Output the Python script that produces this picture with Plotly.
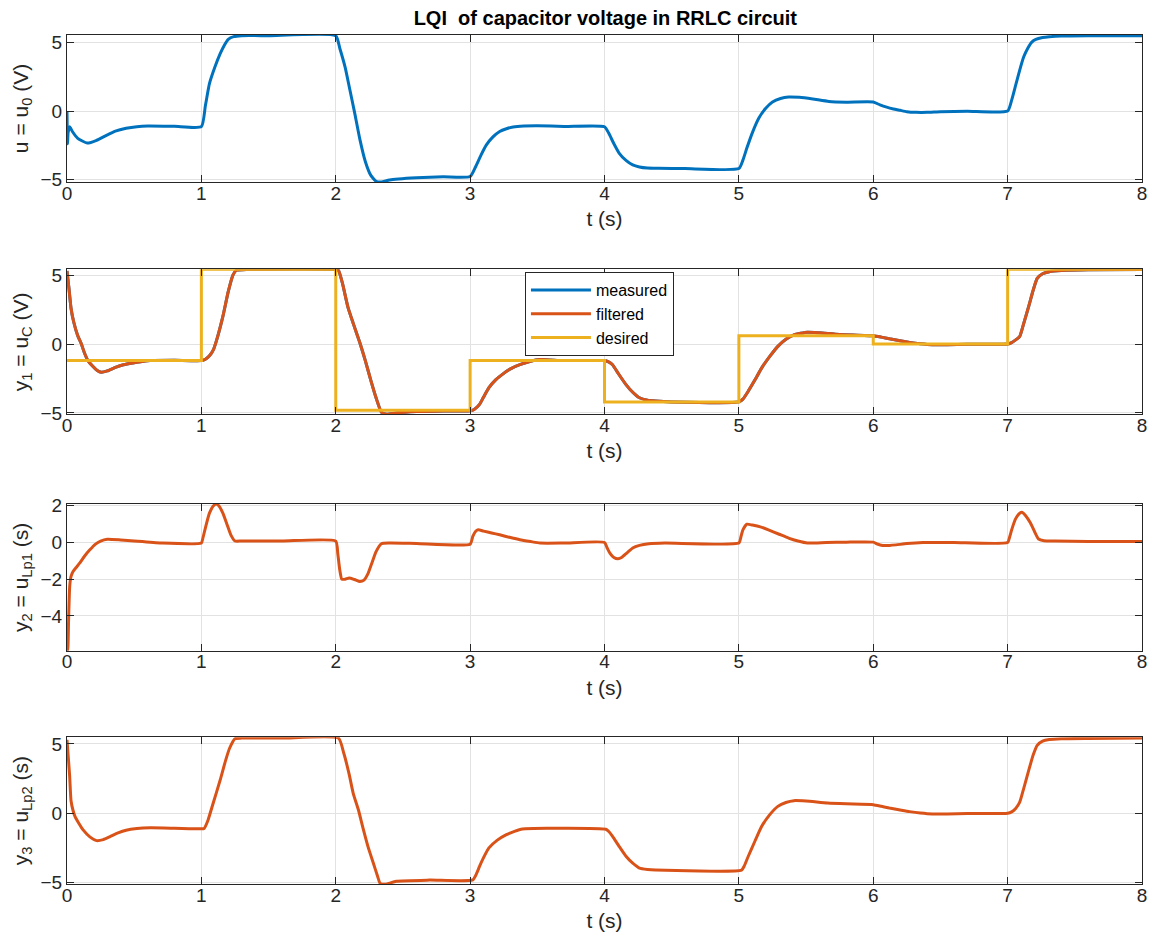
import plotly.graph_objects as go
from plotly.subplots import make_subplots

BLUE = "#0072BD"
ORANGE = "#D95319"
YELLOW = "#EDB120"
AXIS = "#262626"

# control input u = u0
t_u = [0, 0.004, 0.008, 0.02, 0.04, 0.08, 0.15, 0.22, 0.29, 0.36, 0.44, 0.52, 0.6, 0.8,
       1.0, 1.03, 1.06, 1.1, 1.14, 1.17, 1.2, 1.24, 1.3, 1.5,
       2.0, 2.03, 2.07, 2.1, 2.14, 2.18, 2.22, 2.26, 2.3, 2.34, 2.4, 2.6, 2.8,
       3.0, 3.04, 3.08, 3.12, 3.17, 3.22, 3.27, 3.32, 3.4, 3.5, 3.7,
       4.0, 4.03, 4.07, 4.11, 4.16, 4.21, 4.26, 4.32, 4.4, 4.6,
       5.0, 5.03, 5.06, 5.1, 5.15, 5.2, 5.25, 5.31, 5.37, 5.45, 5.55, 5.67, 5.8,
       6.0, 6.05, 6.1, 6.15, 6.2, 6.25, 6.32, 6.4, 6.5, 6.7,
       7.0, 7.03, 7.06, 7.09, 7.12, 7.15, 7.18, 7.21, 7.26, 7.31, 7.4, 7.6, 8.0]
u = [0, -2.4, -1.6, -1.15, -1.5, -2.0, -2.35, -2.15, -1.8, -1.48, -1.27, -1.15, -1.1, -1.12,
     -1.15, 0.4, 2.0, 3.2, 4.2, 4.8, 5.25, 5.45, 5.52, 5.52,
     5.52, 4.6, 3.2, 1.8, -0.1, -2.1, -3.7, -4.7, -5.15, -5.2, -5.05, -4.9, -4.82,
     -4.8, -4.1, -3.25, -2.5, -1.9, -1.5, -1.3, -1.17, -1.1, -1.08, -1.13,
     -1.15, -1.6, -2.4, -3.1, -3.62, -3.95, -4.1, -4.18, -4.2, -4.22,
     -4.22, -3.6, -2.7, -1.6, -0.5, 0.2, 0.66, 0.92, 1.03, 1.0, 0.88, 0.7, 0.65,
     0.66, 0.45, 0.28, 0.15, 0.05, -0.05, -0.1, -0.1, -0.05, -0.02,
     0.0, 0.8, 1.9, 3.0, 3.97, 4.6, 5.05, 5.25, 5.38, 5.44, 5.5, 5.52, 5.52]

# capacitor voltage y1 = uC (measured and filtered overlap)
t_y1 = [0, 0.015, 0.03, 0.05, 0.08, 0.107, 0.13, 0.156, 0.19, 0.225, 0.255, 0.3, 0.36, 0.42,
        0.49, 0.56, 0.62, 0.8,
        1.0, 1.03, 1.06, 1.09, 1.12, 1.16, 1.2, 1.235, 1.26, 1.35,
        2.0, 2.02, 2.05, 2.09, 2.13, 2.18, 2.22, 2.26, 2.3, 2.34, 2.38, 2.45, 2.6, 2.8,
        3.0, 3.03, 3.07, 3.1, 3.14, 3.19, 3.24, 3.3, 3.37, 3.45, 3.52, 3.69,
        4.0, 4.03, 4.06, 4.1, 4.16, 4.21, 4.26, 4.32, 4.38, 4.5,
        5.0, 5.03, 5.07, 5.12, 5.17, 5.23, 5.29, 5.35, 5.41, 5.51, 5.6, 5.75,
        6.0, 6.06, 6.12, 6.2, 6.27, 6.35, 6.44, 6.55, 6.7,
        7.0, 7.03, 7.06, 7.09, 7.12, 7.16, 7.19, 7.22, 7.26, 7.31, 7.4, 7.6, 8.0]
y1 = [5.3, 4.0, 2.6, 1.6, 0.6, 0.0, -0.65, -1.2, -1.6, -1.92, -2.05, -1.95, -1.7, -1.5,
      -1.37, -1.27, -1.2, -1.18,
      -1.2, -1.1, -0.85, -0.4, 0.5, 2.0, 3.8, 5.0, 5.35, 5.42,
      5.42, 5.35, 4.4, 2.7, 1.5, 0.07, -1.2, -2.6, -3.9, -4.95, -5.1, -5.0, -4.9, -4.85,
      -4.85, -4.75, -4.38, -3.85, -3.17, -2.6, -2.2, -1.8, -1.5, -1.25, -1.13, -1.2,
      -1.2, -1.3, -1.5, -2.1, -2.94, -3.5, -3.9, -4.08, -4.14, -4.2,
      -4.2, -4.0, -3.42, -2.6, -1.73, -0.9, -0.17, 0.35, 0.67, 0.86, 0.82, 0.7,
      0.6, 0.5, 0.38, 0.24, 0.12, 0.02, -0.05, -0.05, -0.02,
      0.0, 0.1, 0.3, 0.55, 1.5, 2.84, 3.9, 4.76, 5.1, 5.25, 5.33, 5.38, 5.4]

# desired set-point (step changes every second)
t_ref = [0, 1, 2, 3, 4, 5, 6, 7, 8]
y_ref = [-1.2, 5.42, -4.8, -1.2, -4.2, 0.6, 0.0, 5.42, 5.42]

# y2 = uLp1
t_y2 = [0, 0.006, 0.012, 0.02, 0.03, 0.045, 0.07, 0.094, 0.13, 0.17, 0.21, 0.25, 0.3, 0.4, 0.5, 0.7,
        1.0, 1.01, 1.03, 1.06, 1.09, 1.11, 1.13, 1.16, 1.19, 1.22, 1.25, 1.3, 1.6,
        2.0, 2.015, 2.03, 2.045, 2.07, 2.1, 2.14, 2.18, 2.21, 2.24, 2.27, 2.3, 2.34, 2.4, 2.6,
        3.0, 3.02, 3.04, 3.06, 3.1, 3.16, 3.22, 3.3, 3.37, 3.45, 3.52, 3.7,
        4.0, 4.02, 4.04, 4.07, 4.1, 4.13, 4.17, 4.21, 4.26, 4.33, 4.45,
        5.0, 5.015, 5.03, 5.06, 5.1, 5.16, 5.22, 5.3, 5.37, 5.44, 5.51, 5.65, 5.8,
        6.0, 6.03, 6.07, 6.12, 6.17, 6.25, 6.37, 6.6,
        7.0, 7.015, 7.03, 7.06, 7.09, 7.11, 7.13, 7.17, 7.2, 7.23, 7.27, 7.35, 7.6, 8.0]
y2 = [-5.5, -5.9, -4.2, -2.4, -1.85, -1.58, -1.35, -1.13, -0.75, -0.4, -0.1, 0.08, 0.18, 0.14, 0.08, -0.03,
      -0.03, 0.2, 0.8, 1.6, 2.0, 2.1, 2.0, 1.6, 1.0, 0.4, 0.08, 0.08, 0.08,
      0.08, -0.6, -1.5, -2.0, -2.0, -1.93, -2.02, -2.13, -2.05, -1.7, -1.1, -0.5, -0.07, -0.03, -0.05,
      -0.09, 0.33, 0.6, 0.69, 0.62, 0.52, 0.42, 0.27, 0.15, 0.05, -0.03, -0.03,
      0.0, -0.3, -0.58, -0.82, -0.89, -0.8, -0.55, -0.3, -0.16, -0.07, -0.03,
      -0.03, 0.3, 0.69, 1.0, 0.95, 0.85, 0.69, 0.45, 0.24, 0.08, -0.03, 0.0, 0.02,
      0.02, -0.08, -0.16, -0.16, -0.13, -0.06, 0.0, 0.0,
      0.0, 0.3, 0.69, 1.3, 1.6, 1.64, 1.5, 1.06, 0.6, 0.19, 0.1, 0.08, 0.06, 0.05]

# y3 = uLp2
t_y3 = [0, 0.01, 0.02, 0.03, 0.045, 0.06, 0.09, 0.12, 0.17, 0.22, 0.27, 0.32, 0.38, 0.44, 0.52, 0.62, 0.8,
        1.0, 1.02, 1.05, 1.09, 1.14, 1.18, 1.21, 1.25, 1.3, 1.6,
        2.02, 2.06, 2.1, 2.13, 2.17, 2.2, 2.24, 2.28, 2.31, 2.33, 2.37, 2.45, 2.7,
        3.02, 3.05, 3.07, 3.1, 3.14, 3.2, 3.27, 3.33, 3.39, 3.57,
        4.01, 4.03, 4.06, 4.11, 4.16, 4.21, 4.26, 4.32, 4.38,
        5.02, 5.04, 5.07, 5.12, 5.17, 5.23, 5.29, 5.35, 5.41, 5.5, 5.66, 5.8,
        6.0, 6.06, 6.12, 6.2, 6.27, 6.35, 6.44, 6.55, 6.7,
        7.0, 7.03, 7.06, 7.09, 7.12, 7.16, 7.19, 7.22, 7.26, 7.31, 7.4, 7.6, 8.0]
y3 = [5.3, 4.0, 2.64, 0.9, 0.2, -0.24, -0.75, -1.2, -1.7, -1.97, -1.9, -1.69, -1.42, -1.22, -1.1, -1.05, -1.08,
      -1.12, -1.1, -0.48, 0.8, 2.4, 3.8, 4.69, 5.38, 5.42, 5.42,
      5.42, 4.33, 2.8, 1.44, 0.2, -0.96, -2.4, -3.6, -4.5, -5.05, -5.12, -4.9, -4.82,
      -4.8, -4.3, -3.83, -3.2, -2.5, -1.95, -1.54, -1.3, -1.13, -1.08,
      -1.15, -1.3, -1.66, -2.4, -3.1, -3.6, -3.95, -4.05, -4.09,
      -4.1, -3.8, -3.1, -2.0, -0.94, -0.1, 0.5, 0.78, 0.91, 0.88, 0.74, 0.68,
      0.62, 0.5, 0.38, 0.24, 0.12, 0.02, -0.05, -0.05, -0.02,
      0.0, 0.1, 0.35, 0.8, 1.8, 3.2, 4.2, 4.9, 5.2, 5.32, 5.38, 5.4, 5.42]

x_ticks = list(range(9))
y_ranges = [[-5.2, 5.57], [-5.1, 5.42], [-5.9, 2.1], [-5.1, 5.48]]
y_ticks = [[-5, 0, 5], [-5, 0, 5], [-4, -2, 0, 2], [-5, 0, 5]]
y_titles = ["u = u<sub>0</sub> (V)", "y<sub>1</sub> = u<sub>C</sub> (V)",
            "y<sub>2</sub> = u<sub>Lp1</sub> (s)", "y<sub>3</sub> = u<sub>Lp2</sub> (s)"]
domains = [[0.8269, 1.0], [0.5532, 0.7240], [0.2748, 0.4476], [0.0, 0.1728]]

fig = make_subplots(rows=4, cols=1)


def line(x, y, color, name=None, legend=False, shape="spline"):
    style = {"color": color, "width": 3, "shape": shape}
    if shape == "spline":
        style["smoothing"] = 0.5
    return go.Scatter(x=x, y=y, mode="lines", name=name, showlegend=legend, line=style)


fig.add_trace(line(t_u, u, BLUE), row=1, col=1)
fig.add_trace(line(t_y1, y1, BLUE, "measured", True), row=2, col=1)
fig.add_trace(line(t_y1, y1, ORANGE, "filtered", True), row=2, col=1)
fig.add_trace(line(t_ref, y_ref, YELLOW, "desired", True, "hv"), row=2, col=1)
fig.add_trace(line(t_y2, y2, ORANGE), row=3, col=1)
fig.add_trace(line(t_y3, y3, ORANGE), row=4, col=1)

for i in range(4):
    fig.update_xaxes(
        row=i + 1, col=1, range=[0, 8], tickvals=x_ticks, ticks="inside", ticklen=7,
        tickcolor=AXIS, showline=True, linecolor=AXIS, linewidth=1, mirror="ticks",
        showgrid=True, gridcolor="#e2e2e2", zeroline=False, automargin=False,
        ticklabelstandoff=-6, ticklabeloverflow="allow",
        tickfont={"size": 19, "color": AXIS},
        title={"text": "t (s)", "font": {"size": 21, "color": AXIS}, "standoff": 8},
    )
    fig.update_yaxes(
        row=i + 1, col=1, range=y_ranges[i], tickvals=y_ticks[i], domain=domains[i],
        ticks="inside", ticklen=7, tickcolor=AXIS, showline=True, linecolor=AXIS,
        linewidth=1, mirror="ticks", showgrid=True, gridcolor="#e2e2e2", zeroline=False,
        automargin=False, ticklabelstandoff=0, ticklabeloverflow="allow",
        tickfont={"size": 19, "color": AXIS},
        title={"text": y_titles[i], "font": {"size": 21, "color": AXIS}, "standoff": 6},
    )

fig.update_layout(
    width=1153,
    height=942,
    margin={"l": 67, "r": 11, "t": 35, "b": 58},
    paper_bgcolor="white",
    plot_bgcolor="white",
    font={"family": "Liberation Sans, Arial, sans-serif", "color": AXIS},
    title={"text": "<b>LQI  of capacitor voltage in RRLC circuit</b>", "x": 0.525,
           "xanchor": "center", "y": 0.9809, "yanchor": "middle",
           "font": {"size": 20, "color": "black"}},
    legend={"x": 0.426, "y": 0.7208, "xanchor": "left", "yanchor": "top",
            "bgcolor": "white", "bordercolor": AXIS, "borderwidth": 1,
            "font": {"size": 16, "color": "black"}, "itemwidth": 60,
            "tracegroupgap": 0},
)

# drop the default body margin so the figure fills the window exactly
fig.write_html("out.html", default_width="1153px", default_height="942px",
               config={"displayModeBar": False},
               post_script="document.body.style.margin = '0';")
